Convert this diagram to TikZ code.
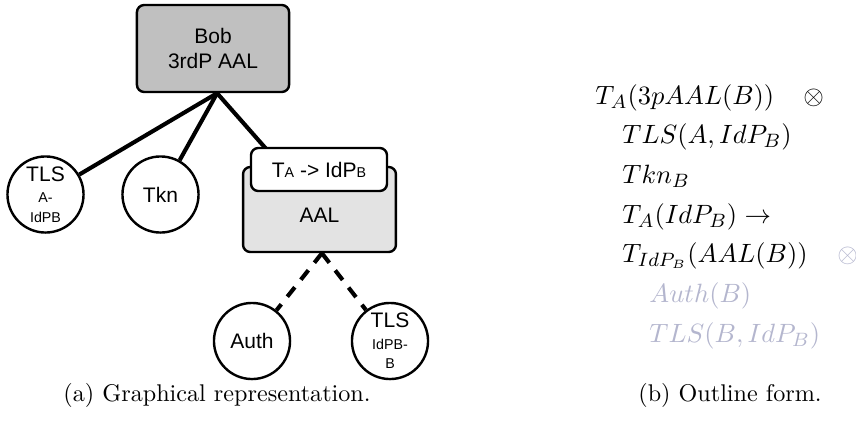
\documentclass[tikz,border=0pt]{standalone}
\usepackage{fontspec}
\usepackage{xcolor}
\usepackage{tikz}
\usetikzlibrary{positioning, backgrounds}
\newfontfamily\diagsans{Liberation Sans}
\definecolor{BobGray}{RGB}{192, 192, 192}
\definecolor{AALGray}{RGB}{227, 227, 227}
\definecolor{FadedText}{RGB}{180, 182, 206}
\newcommand{\subtxt}[1]{{\fontsize{5.9}{6.6}\selectfont #1}}

\begin{document}
\begin{tikzpicture}[x=0.414pt,y=-0.414pt,
    partybox/.style={draw, line width=1pt, rounded corners=3pt, align=center,
      font=\diagsans\fontsize{8.7}{10.6}\selectfont},
    leaf/.style={draw, circle, line width=1pt, fill=white, minimum size=31.5pt,
      inner sep=0pt, align=center, font=\diagsans\fontsize{8.7}{10}\selectfont},
    link/.style={line width=1.7pt},
    optlink/.style={line width=1.7pt, dash pattern=on 5pt off 4pt},
    outline/.style={anchor=base west, inner sep=0pt, font=\fontsize{11}{13}\selectfont},
    caption/.style={anchor=base, inner sep=0pt, font=\fontsize{10}{12}\selectfont}]
  \path[use as bounding box] (0,0) rectangle (856,427);

  % (a) graphical representation
  \node[partybox, fill=BobGray, minimum width=63pt, minimum height=36pt] (bob) at (213,48.5) {Bob\\3rdP AAL};
  \node[leaf] (tlsA) at (45.5,194.5) {TLS\\[-1pt]\subtxt{A-}\\[-2pt]\subtxt{IdPB}};
  \node[leaf] (tkn) at (160.5,194.5) {Tkn};
  \node[partybox, fill=AALGray, minimum width=63.3pt, minimum height=35.2pt, text height=11pt] (aal) at (319.5,209.5) {AAL};
  \node[partybox, fill=white, minimum width=56.3pt, minimum height=17.8pt] (tkey) at (319,169.5) {T\subtxt{A} -> IdP\subtxt{B}};
  \node[leaf] (auth) at (252,341) {Auth};
  \node[leaf] (tlsB) at (390,341) {TLS\\[-1pt]\subtxt{IdPB-}\\[-2pt]\subtxt{B}};

  \begin{scope}[on background layer]
    \draw[link] ([xshift=1.7pt]bob.south) -- (tlsA);
    \draw[link] ([xshift=1.7pt]bob.south) -- (tkn);
    \draw[link] ([xshift=1.7pt]bob.south) -- (aal);
    \draw[optlink] ([xshift=1pt]aal.south) -- (auth);
    \draw[optlink] ([xshift=1pt]aal.south) -- (tlsB);
  \end{scope}

  \node[caption] (capA) at (217,401) {(a) Graphical representation.};

  % (b) outline form
  \node[outline] (outTop) at (595,104) {$T_A(3pAAL(B))$};
  \node[outline] (andTop) at (803,104) {$\otimes$};
  \node[outline] (outTLS) at (622,143) {$TLS(A,IdP_B)$};
  \node[outline] (outTkn) at (622,183) {$Tkn_B$};
  \node[outline] (outTrust) at (622,223) {$T_A(IdP_B)\rightarrow$};
  \node[outline] (outAAL) at (622,262) {$T_{IdP_B}(AAL(B))$};
  \node[outline, text=FadedText] (andAAL) at (837,262) {$\otimes$};
  \node[outline, text=FadedText] (outAuth) at (649,302) {$Auth(B)$};
  \node[outline, text=FadedText] (outTLSB) at (649,342) {$TLS(B,IdP_B)$};

  \node[caption] (capB) at (730,401) {(b) Outline form.};
\end{tikzpicture}
\end{document}
